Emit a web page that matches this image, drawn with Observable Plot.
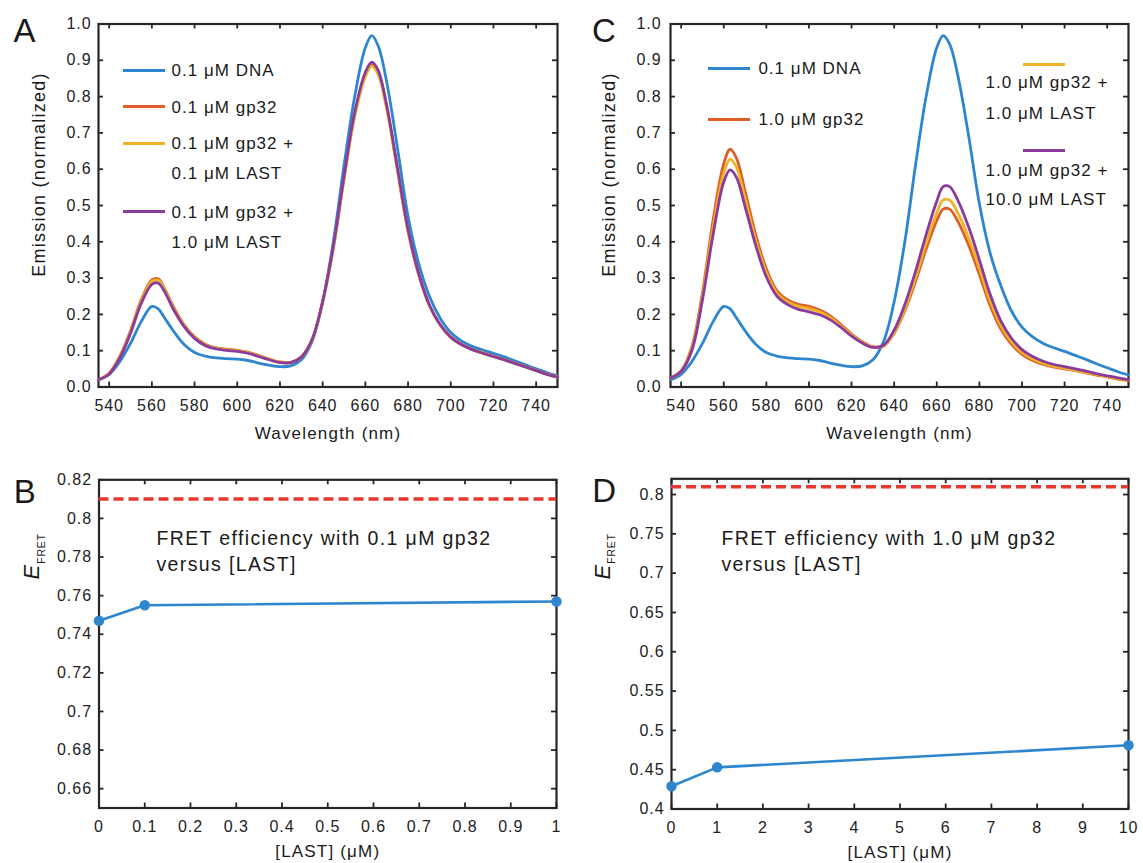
<!DOCTYPE html>
<html>
<head>
<meta charset="utf-8">
<script src="https://cdn.jsdelivr.net/npm/d3@7"></script>
<script src="https://cdn.jsdelivr.net/npm/@observablehq/plot@0.6"></script>
<style>
html,body{margin:0;padding:0;background:#fff;}
#fig{position:relative;width:1143px;height:863px;overflow:hidden;background:#fff;font-family:"Liberation Sans",Arial,Helvetica,sans-serif;color:#1a1a1a;}
.panel{position:absolute;}
.panel svg{display:block;overflow:visible;}
.lg-line{position:absolute;height:3px;margin-top:-1.5px;}
.lg-text{position:absolute;font-size:17px;line-height:1;letter-spacing:0.06em;white-space:nowrap;transform:translateY(-50%);}
</style>
</head>
<body>
<div id="fig"></div>
<script>
// ---------------- data ----------------
const wavelength = [535,540,545,550,555,560,563,566,570,575,580,585,590,595,600,605,610,615,620,625,630,635,640,645,650,655,660,663,666,670,675,680,685,690,695,700,705,710,715,720,725,730,735,740,745,750];

// Panel A
const aDna = [0.020,0.035,0.070,0.120,0.180,0.222,0.215,0.190,0.155,0.118,0.095,0.085,0.080,0.078,0.077,0.073,0.066,0.060,0.056,0.058,0.075,0.125,0.235,0.400,0.610,0.800,0.935,0.968,0.940,0.840,0.660,0.470,0.340,0.250,0.190,0.150,0.127,0.112,0.102,0.093,0.083,0.072,0.061,0.050,0.040,0.031];
const aGp32 = [0.020,0.038,0.085,0.155,0.240,0.295,0.298,0.270,0.222,0.172,0.138,0.118,0.108,0.104,0.101,0.096,0.087,0.077,0.069,0.068,0.083,0.130,0.235,0.385,0.575,0.750,0.860,0.888,0.865,0.770,0.600,0.430,0.310,0.225,0.172,0.138,0.118,0.104,0.094,0.085,0.076,0.066,0.056,0.046,0.036,0.028];
const aGp32Last01 = [0.020,0.037,0.083,0.152,0.236,0.291,0.294,0.267,0.219,0.170,0.136,0.116,0.107,0.103,0.100,0.095,0.086,0.076,0.068,0.067,0.082,0.129,0.233,0.382,0.572,0.745,0.855,0.884,0.861,0.766,0.597,0.428,0.308,0.223,0.170,0.136,0.116,0.103,0.093,0.084,0.075,0.065,0.055,0.045,0.035,0.027];
const aGp32Last10 = [0.020,0.036,0.080,0.148,0.230,0.283,0.286,0.262,0.215,0.167,0.134,0.114,0.105,0.101,0.098,0.093,0.084,0.075,0.067,0.067,0.082,0.130,0.236,0.388,0.580,0.757,0.867,0.895,0.872,0.776,0.605,0.434,0.312,0.226,0.172,0.137,0.117,0.103,0.093,0.084,0.075,0.065,0.055,0.045,0.035,0.027];

// Panel C
const cDna = [0.020,0.035,0.070,0.120,0.180,0.222,0.215,0.190,0.155,0.118,0.095,0.085,0.080,0.078,0.077,0.073,0.066,0.060,0.056,0.058,0.075,0.125,0.235,0.400,0.610,0.800,0.935,0.968,0.945,0.855,0.690,0.505,0.370,0.280,0.210,0.165,0.138,0.120,0.108,0.098,0.087,0.076,0.064,0.053,0.042,0.033];
const cGp32 = [0.025,0.045,0.110,0.260,0.460,0.615,0.655,0.630,0.540,0.420,0.325,0.265,0.240,0.228,0.222,0.212,0.196,0.172,0.146,0.125,0.111,0.113,0.148,0.210,0.290,0.380,0.458,0.490,0.490,0.455,0.390,0.310,0.225,0.160,0.118,0.090,0.073,0.062,0.055,0.050,0.045,0.039,0.033,0.028,0.022,0.018];
const cGp32Last1 = [0.025,0.044,0.105,0.250,0.440,0.590,0.628,0.605,0.520,0.405,0.315,0.258,0.234,0.222,0.216,0.207,0.191,0.168,0.143,0.123,0.110,0.113,0.150,0.215,0.300,0.395,0.480,0.515,0.515,0.478,0.410,0.326,0.238,0.170,0.125,0.095,0.077,0.065,0.057,0.052,0.046,0.040,0.034,0.029,0.023,0.019];
const cGp32Last10 = [0.025,0.043,0.100,0.240,0.420,0.565,0.598,0.577,0.497,0.390,0.303,0.250,0.227,0.214,0.207,0.199,0.185,0.164,0.140,0.121,0.109,0.115,0.157,0.227,0.318,0.420,0.512,0.552,0.552,0.513,0.440,0.350,0.256,0.183,0.135,0.103,0.084,0.071,0.062,0.056,0.050,0.044,0.037,0.031,0.025,0.020];

const aLabels = ["0.1 μM DNA","0.1 μM gp32","0.1 μM gp32 +\n0.1 μM LAST","0.1 μM gp32 +\n1.0 μM LAST"];
const cLabels = ["0.1 μM DNA","1.0 μM gp32","1.0 μM gp32 +\n1.0 μM LAST","1.0 μM gp32 +\n10.0 μM LAST"];

const spectraTicksX = [540,560,580,600,620,640,660,680,700,720,740];
const spectraTicksY = [0,0.1,0.2,0.3,0.4,0.5,0.6,0.7,0.8,0.9,1.0];

// Panel B
const bLast = [0, 0.1, 1];
const bEff = [0.747, 0.755, 0.757];
const bTicksX = [0,0.1,0.2,0.3,0.4,0.5,0.6,0.7,0.8,0.9,1];
const bTicksY = [0.66,0.68,0.70,0.72,0.74,0.76,0.78,0.80,0.82];

// Panel D
const dLast = [0, 1, 10];
const dEff = [0.429, 0.453, 0.481];
const dTicksX = [0,1,2,3,4,5,6,7,8,9,10];
const dTicksY = [0.40,0.45,0.50,0.55,0.60,0.65,0.70,0.75,0.80];

const efretDnaOnly = 0.81;

// ---------------- styles ----------------
const FONT = '"Liberation Sans", Arial, Helvetica, sans-serif';
const FRAME = "#262626";
const INK = "#1a1a1a";
const BLUE = "#2e86cf", ORANGE = "#df5e27", YELLOW = "#efb326", PURPLE = "#8b3b9d", RED = "#e8372c";

const fig = document.getElementById("fig");
const rows = ys => wavelength.map((w, i) => ({w, v: ys[i]}));
const pts = (xs, ys) => xs.map((x, i) => ({x, y: ys[i]}));
const txt = (s, o) => Plot.text([s], {text: d => d, fill: INK, ...o});
const fmtTrim = d => String(+d.toFixed(2));

function drawPanel(cfg) {
  const {left, top, width, height, mL, mR, mT, mB, xDomain, yDomain, xTicks, yTicks, xFormat, yFormat, yPad, xPad, marks} = cfg;
  const iw = width - mL - mR, ih = height - mT - mB, tk = 5;
  const tickStyle = {stroke: FRAME, strokeWidth: 1.8};
  const svg = Plot.plot({
    width, height,
    marginLeft: mL, marginRight: mR, marginTop: mT, marginBottom: mB,
    x: {domain: xDomain},
    y: {domain: yDomain},
    style: {fontFamily: FONT, fontSize: "16px", color: "#222", background: "transparent", overflow: "visible"},
    marks: [
      Plot.tickX(xTicks, {x: d => d, insetTop: ih - tk, ...tickStyle}),
      Plot.tickX(xTicks, {x: d => d, insetBottom: ih - tk, ...tickStyle}),
      Plot.tickY(yTicks, {y: d => d, insetRight: iw - tk, ...tickStyle}),
      Plot.tickY(yTicks, {y: d => d, insetLeft: iw - tk, ...tickStyle}),
      Plot.frame({stroke: FRAME, strokeWidth: 2.2}),
      Plot.axisX({ticks: xTicks, tickSize: 0, tickPadding: xPad, tickFormat: xFormat, label: null}),
      Plot.axisY({ticks: yTicks, tickSize: 0, tickPadding: yPad, tickFormat: yFormat, label: null}),
      ...marks
    ]
  });
  svg.querySelectorAll("text").forEach(t => t.style.letterSpacing = "0.06em");
  const div = document.createElement("div");
  div.className = "panel";
  div.style.left = left + "px"; div.style.top = top + "px";
  div.style.width = width + "px"; div.style.height = height + "px";
  div.appendChild(svg);
  fig.appendChild(div);
}

function addLegend(items) {
  items.forEach(it => {
    const l = document.createElement("div");
    l.className = "lg-line";
    l.style.left = it.x1 + "px"; l.style.width = (it.x2 - it.x1) + "px";
    l.style.top = it.y + "px"; l.style.background = it.color;
    fig.appendChild(l);
    it.label.split("\n").forEach((s, i) => {
      const t = document.createElement("div");
      t.className = "lg-text";
      t.textContent = s;
      t.style.left = it.tx + "px"; t.style.top = it.ty[i] + "px";
      fig.appendChild(t);
    });
  });
}

const specLine = (ys, color) => Plot.line(rows(ys), {x: "w", y: "v", stroke: color, strokeWidth: 2.8, curve: "catmull-rom"});
const rotLabel = (s, o) => txt(s, {frameAnchor: "left", rotate: -90, textAnchor: "middle", lineAnchor: "middle", ...o});

// ---------------- Panel A ----------------
drawPanel({
  left: 0, top: 0, width: 570, height: 450, mL: 98, mR: 13, mT: 23.5, mB: 63.5,
  xDomain: [535, 750], yDomain: [0, 1], xTicks: spectraTicksX, yTicks: spectraTicksY,
  xFormat: d => String(d), yFormat: d3.format(".1f"), yPad: 7, xPad: 13,
  marks: [
    specLine(aDna, BLUE), specLine(aGp32, ORANGE), specLine(aGp32Last01, YELLOW), specLine(aGp32Last10, PURPLE),
    txt("A", {frameAnchor: "top-left", dx: -85, dy: 7, fontSize: 33, textAnchor: "start", lineAnchor: "middle"}),
    rotLabel("Emission (normalized)", {dx: -59, dy: -31, fontSize: 18}),
    txt("Wavelength (nm)", {frameAnchor: "bottom", dy: 47, fontSize: 17, textAnchor: "middle", lineAnchor: "middle"})
  ]
});

// ---------------- Panel C ----------------
drawPanel({
  left: 570, top: 0, width: 573, height: 450, mL: 100, mR: 15, mT: 23.5, mB: 63.5,
  xDomain: [535, 750], yDomain: [0, 1], xTicks: spectraTicksX, yTicks: spectraTicksY,
  xFormat: d => String(d), yFormat: d3.format(".1f"), yPad: 9, xPad: 13,
  marks: [
    specLine(cDna, BLUE), specLine(cGp32, ORANGE), specLine(cGp32Last1, YELLOW), specLine(cGp32Last10, PURPLE),
    txt("C", {frameAnchor: "top-left", dx: -78.5, dy: 7.3, fontSize: 33, textAnchor: "start", lineAnchor: "middle"}),
    rotLabel("Emission (normalized)", {dx: -61, dy: -31, fontSize: 18}),
    txt("Wavelength (nm)", {frameAnchor: "bottom", dy: 47, fontSize: 17, textAnchor: "middle", lineAnchor: "middle"})
  ]
});

// ---------------- Panel B ----------------
drawPanel({
  left: 0, top: 450, width: 570, height: 413, mL: 98.5, mR: 14, mT: 29.3, mB: 55.5,
  xDomain: [0, 1], yDomain: [0.65, 0.82], xTicks: bTicksX, yTicks: bTicksY,
  xFormat: fmtTrim, yFormat: fmtTrim, yPad: 7, xPad: 12.5,
  marks: [
    Plot.ruleY([efretDnaOnly], {stroke: RED, strokeWidth: 3.5, strokeDasharray: "10,5"}),
    Plot.line(pts(bLast, bEff), {x: "x", y: "y", stroke: BLUE, strokeWidth: 2.6}),
    Plot.dot(pts(bLast, bEff), {x: "x", y: "y", r: 4.5, fill: BLUE, stroke: BLUE}),
    txt("FRET efficiency with 0.1 μM gp32\nversus [LAST]", {frameAnchor: "top-left", dx: 57.5, dy: 70.2, fontSize: 19.5, textAnchor: "start", lineAnchor: "middle", lineHeight: 1.31}),
    txt("B", {frameAnchor: "top-left", dx: -85.2, dy: 12.9, fontSize: 33, textAnchor: "start", lineAnchor: "middle"}),
    rotLabel("E", {dx: -66.7, dy: -72.4, fontSize: 22, fontStyle: "italic"}),
    rotLabel("FRET", {dx: -57.2, dy: -95.4, fontSize: 10.5}),
    txt("[LAST] (μM)", {frameAnchor: "bottom", dy: 43.5, fontSize: 17, textAnchor: "middle", lineAnchor: "middle"})
  ]
});

// ---------------- Panel D ----------------
drawPanel({
  left: 570, top: 450, width: 573, height: 413, mL: 101, mR: 15, mT: 28.3, mB: 54.5,
  xDomain: [0, 10], yDomain: [0.4, 0.82], xTicks: dTicksX, yTicks: dTicksY,
  xFormat: d => String(d), yFormat: fmtTrim, yPad: 7, xPad: 12.5,
  marks: [
    Plot.ruleY([efretDnaOnly], {stroke: RED, strokeWidth: 3.5, strokeDasharray: "10,5"}),
    Plot.line(pts(dLast, dEff), {x: "x", y: "y", stroke: BLUE, strokeWidth: 2.6}),
    Plot.dot(pts(dLast, dEff), {x: "x", y: "y", r: 4.5, fill: BLUE, stroke: BLUE}),
    txt("FRET efficiency with 1.0 μM gp32\nversus [LAST]", {frameAnchor: "top-left", dx: 50, dy: 71.2, fontSize: 19.5, textAnchor: "start", lineAnchor: "middle", lineHeight: 1.31}),
    txt("D", {frameAnchor: "top-left", dx: -79.2, dy: 12.5, fontSize: 33, textAnchor: "start", lineAnchor: "middle"}),
    rotLabel("E", {dx: -69, dy: -72.4, fontSize: 22, fontStyle: "italic"}),
    rotLabel("FRET", {dx: -59.5, dy: -95.4, fontSize: 10.5}),
    txt("[LAST] (μM)", {frameAnchor: "bottom", dy: 43.5, fontSize: 17, textAnchor: "middle", lineAnchor: "middle"})
  ]
});

// annotation text letter spacing a bit wider
document.querySelectorAll(".panel svg g[aria-label='text'] text").forEach(t => t.style.letterSpacing = "0.07em");

// ---------------- Legends ----------------
addLegend([
  {label: aLabels[0], color: BLUE,   x1: 123, x2: 165, y: 70,    tx: 171.5, ty: [70]},
  {label: aLabels[1], color: ORANGE, x1: 123, x2: 165, y: 106.7, tx: 171.5, ty: [106.7]},
  {label: aLabels[2], color: YELLOW, x1: 123, x2: 165, y: 143.3, tx: 171.5, ty: [143.3, 173.3]},
  {label: aLabels[3], color: PURPLE, x1: 123, x2: 165, y: 211.7, tx: 171.5, ty: [211.7, 241.7]},
  {label: cLabels[0], color: BLUE,   x1: 708, x2: 750, y: 68.3,  tx: 758.4, ty: [68.3]},
  {label: cLabels[1], color: ORANGE, x1: 708, x2: 750, y: 119,   tx: 758.4, ty: [119]},
  {label: cLabels[2], color: YELLOW, x1: 1023, x2: 1065, y: 64.3, tx: 985.6, ty: [81.7, 113.3]},
  {label: cLabels[3], color: PURPLE, x1: 1023, x2: 1065, y: 150.7, tx: 985.6, ty: [170, 199.3]}
]);
</script>
</body>
</html>
